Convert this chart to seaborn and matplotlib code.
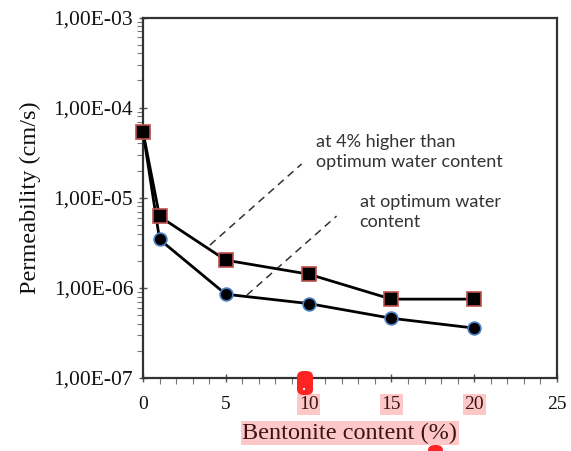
import numpy as np
import pandas as pd
import seaborn as sns
import matplotlib
matplotlib.use("Agg")
import matplotlib.pyplot as plt
from matplotlib.ticker import FuncFormatter, LogLocator, MultipleLocator
from matplotlib.patches import FancyBboxPatch, Rectangle

# ---- data ----
bentonite = [0, 1, 5, 10, 15, 20]
perm_wet = [5.4e-5, 6.2e-6, 2.03e-6, 1.42e-6, 7.5e-7, 7.5e-7]   # 4% above optimum
perm_opt = [5.4e-5, 3.45e-6, 8.5e-7, 6.7e-7, 4.6e-7, 3.58e-7]   # at optimum
x_ticks = [0, 5, 10, 15, 20, 25]
highlighted_ticks = [10, 15, 20]
label_wet = "at 4% higher than\noptimum water content"
label_opt = "at optimum water\ncontent"

sns.set_theme(style="white")
plt.rcParams["font.family"] = ["Liberation Serif", "DejaVu Serif"]

W, H = 571, 451
fig = plt.figure(figsize=(W / 100, H / 100), dpi=100)
L, R, T, B = 143, 557, 17.5, 378
ax = fig.add_axes([L / W, 1 - B / H, (R - L) / W, (B - T) / H])

df_opt = pd.DataFrame({"x": bentonite, "y": perm_opt})
df_wet = pd.DataFrame({"x": bentonite, "y": perm_wet})

sns.lineplot(data=df_opt, x="x", y="y", ax=ax, color="black", lw=2,
             marker="o", markersize=9.2, markerfacecolor="black",
             markeredgecolor="#4a7fc4", markeredgewidth=1.2, zorder=3, clip_on=False)
sns.lineplot(data=df_wet, x="x", y="y", ax=ax, color="black", lw=2,
             marker="s", markersize=9.5, markerfacecolor="black",
             markeredgecolor="#c0504d", markeredgewidth=1.2, zorder=4, clip_on=False)

ax.set_yscale("log")
ax.set_ylim(1e-7, 1e-3)
ax.set_xlim(0, 25)
ax.set_xticks(x_ticks)
ax.xaxis.set_minor_locator(MultipleLocator(1))
ax.yaxis.set_major_locator(LogLocator(base=10, numticks=10))
ax.yaxis.set_minor_locator(LogLocator(base=10, subs=np.arange(2, 10), numticks=20))
ax.yaxis.set_major_formatter(FuncFormatter(lambda v, p: f"{v:.2E}".replace(".", ",")))

for s in ax.spines.values():
    s.set_color("#333333")
    s.set_linewidth(1.6)
    s.set_visible(True)

ax.tick_params(axis="both", which="major", direction="inout", length=6, width=1,
               color="#555555", left=True, bottom=True)
ax.tick_params(axis="both", which="minor", direction="out", length=4, width=0.8,
               color="#777777", left=True, bottom=True)
ax.tick_params(axis="y", which="major", labelsize=15.5, pad=4, labelcolor="#111111")
ax.tick_params(axis="x", which="major", labelsize=14, pad=10, labelcolor="#111111")

ax.set_xlabel("Bentonite content (%)", fontsize=17.5, color="#3a1414", labelpad=7,
              bbox=dict(facecolor="#ffc8c8", edgecolor="none", pad=1.0))
ax.set_ylabel("Permeability (cm/s)", fontsize=17.5, color="#111111", labelpad=9)
ax.grid(False)

fig.canvas.draw()
for lab, val in zip(ax.get_xticklabels(), x_ticks):
    if val in highlighted_ticks:
        lab.set_bbox(dict(facecolor="#ffc8c8", edgecolor="none", pad=1.2))
        lab.set_color("#3a1414")

# annotation leader lines (dashed)
ax.plot([4.04, 9.58], [2.98e-6, 2.37e-5], ls=(0, (5, 3.5)), color="#333333", lw=1.1, zorder=2)
ax.plot([6.27, 11.69], [8.3e-7, 6.27e-6], ls=(0, (5, 3.5)), color="#333333", lw=1.1, zorder=2)

afont = ["Lato", "DejaVu Sans"]
ax.text(0.419, 0.627, label_wet, transform=ax.transAxes, ha="left", va="center",
        fontsize=13, family=afont, color="#333333", linespacing=1.3)
ax.text(0.523, 0.46, label_opt, transform=ax.transAxes, ha="left", va="center",
        fontsize=13, family=afont, color="#333333", linespacing=1.3)

# red marks over the figure
def px_box(x0, y0, x1, y1, **kw):
    return FancyBboxPatch((x0 / W, 1 - y1 / H), (x1 - x0) / W, (y1 - y0) / H,
                          boxstyle="round,pad=0,rounding_size=0.012",
                          transform=fig.transFigure, clip_on=False, **kw)

fig.patches.append(px_box(297, 371, 313, 395, facecolor="#ff2424", edgecolor="none", zorder=10))
fig.patches.append(Rectangle((303 / W, 1 - 390 / H), 2 / W, 2 / H, transform=fig.transFigure,
                             facecolor="white", edgecolor="none", zorder=11))
fig.patches.append(px_box(428, 445, 443, 462, facecolor="#ff2424", edgecolor="none", zorder=10))

fig.savefig("out.png", dpi=100)
